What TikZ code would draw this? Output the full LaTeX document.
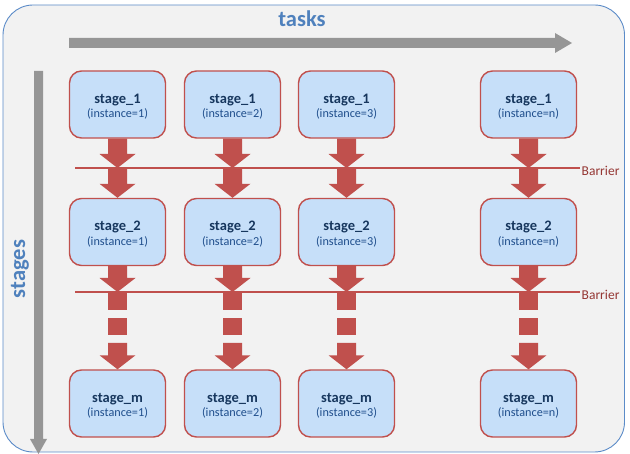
\documentclass[tikz,border=0pt]{standalone}
\usepackage{fontspec}
\setmainfont{Carlito}
\usetikzlibrary{calc}
\definecolor{bgc}{HTML}{F2F2F2}
\definecolor{framec}{HTML}{5B8BC8}
\definecolor{grayc}{HTML}{969696}
\definecolor{redc}{HTML}{C0504D}
\definecolor{boxc}{HTML}{C6DFF9}
\definecolor{stagec}{HTML}{17375E}
\definecolor{instc}{HTML}{1F4E8C}
\definecolor{titlec}{HTML}{4F81BD}
\definecolor{barc}{HTML}{953734}
\newcommand\dnarrow[2]{%
  \fill[redc] let \p1=#1, \p2=#2 in
    (\x1-9.5pt,\y1) -- (\x1+9.5pt,\y1) -- (\x1+9.5pt,\y2+14pt) -- (\x1+18pt,\y2+14pt)
    -- (\x1,\y2) -- (\x1-18pt,\y2+14pt) -- (\x1-9.5pt,\y2+14pt) -- cycle;}
\newcommand\dnblock[2]{%
  \fill[redc] let \p1=#1, \p2=#2 in (\x1-9.5pt,\y1) rectangle (\x1+9.5pt,\y2);}
\newcommand\boxtext[2]{\raisebox{-5.5pt}[0pt][0pt]{\begin{tabular}{@{}c@{}}{\fontsize{14.5}{15}\selectfont\bfseries\color{stagec}#1}\\[2pt]{\fontsize{12.2}{13}\selectfont\color{instc}(instance=#2)}\end{tabular}}}
\begin{document}
\begin{tikzpicture}[x=1pt,y=-1pt,
  stagebox/.style={draw=redc, fill=boxc, line width=1.4pt, rounded corners=12pt,
    minimum width=96pt, minimum height=67pt, inner sep=0pt, align=center},
  barline/.style={draw=redc, line width=1.3pt},
  bartext/.style={text=barc, font=\fontsize{13.5}{14}\selectfont, anchor=base west, inner sep=0pt},
  axistext/.style={text=titlec, font=\fontsize{22.5}{24}\selectfont\bfseries}]
\useasboundingbox (0,0) rectangle (630,454);
\draw[fill=bgc, draw=framec, line width=0.9pt, rounded corners=30pt] (3,5) rectangle (624.5,452);
% axes
\node[axistext] (tasks) at (302,19) {tasks};
\node[axistext, rotate=90] (stages) at (20,269) {stages};
\fill[grayc] (69,38) -- (555,38) -- (555,33) -- (572,43) -- (555,53) -- (555,48) -- (69,48) -- cycle;
\fill[grayc] (34,71) -- (43,71) -- (43,439) -- (47,439) -- (38.5,454) -- (30,439) -- (34,439) -- cycle;
% boxes
\foreach \c/\x/\i in {1/117.5/1,2/232.5/2,3/346.5/3,4/528.5/n}{
  \node[stagebox] (a\c) at (\x,104.5) {\boxtext{stage\_1}{\i}};
  \node[stagebox] (b\c) at (\x,232) {\boxtext{stage\_2}{\i}};
  \node[stagebox] (m\c) at (\x,403.5) {\boxtext{stage\_m}{\i}};
}
% barriers
\coordinate (bar1L) at (75,168); \coordinate (bar1R) at (580,168);
\coordinate (bar2L) at (75,292); \coordinate (bar2R) at (580,292);
\draw[barline] (bar1L) -- (bar1R);
\draw[barline] (bar2L) -- (bar2R);
\node[bartext] (barrier1) at (581.5,176) {Barrier};
\node[bartext] (barrier2) at (581.5,300) {Barrier};
% arrows
\foreach \c in {1,2,3,4}{
  \dnarrow{(a\c.south)}{(a\c.south |- bar1L)}
  \dnarrow{(a\c.south |- bar1L)}{(b\c.north)}
  \dnarrow{(b\c.south)}{(b\c.south |- bar2L)}
  \dnblock{(b\c.south |- bar2L)}{($(b\c.south |- bar2L)+(0,18)$)}
  \dnblock{($(b\c.south |- bar2L)+(0,26)$)}{($(b\c.south |- bar2L)+(0,43)$)}
  \dnarrow{($(b\c.south |- bar2L)+(0,51)$)}{(m\c.north)}
}
\end{tikzpicture}
\end{document}
